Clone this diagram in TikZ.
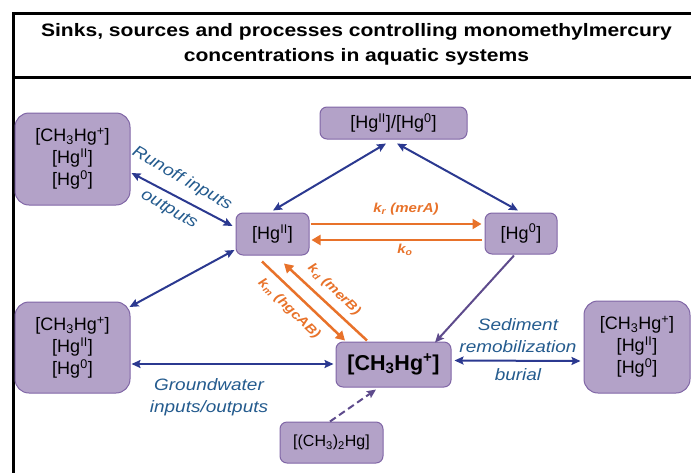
\documentclass[tikz,border=0pt]{standalone}
\usepackage{fontspec}
\setmainfont{Liberation Sans}
\newfontfamily\widefont{Liberation Sans}[FakeStretch=1.15]
\newfontfamily\titlefont{Liberation Sans}[FakeStretch=1.17]
\usetikzlibrary{arrows.meta,calc}
\definecolor{boxfill}{HTML}{B3A2C8}
\definecolor{boxline}{HTML}{8066A6}
\definecolor{navy}{HTML}{2B3990}
\definecolor{lbl}{HTML}{245B8E}
\definecolor{orng}{HTML}{E8722A}
\definecolor{purp}{HTML}{5E4B8C}
\newcommand{\HgTwo}{[Hg\textsuperscript{II}]}
\newcommand{\HgZero}{[Hg\textsuperscript{0}]}
\newcommand{\MeHg}{[CH\textsubscript{3}Hg\textsuperscript{+}]}
\tikzset{
  bigbox/.style={draw=boxline, fill=boxfill, line width=1pt, rounded corners=14pt, align=center,
    font=\fontsize{18}{22}\selectfont, inner sep=0pt},
  smallbox/.style={draw=boxline, fill=boxfill, line width=1pt, rounded corners=7pt, align=center,
    font=\fontsize{18}{22}\selectfont, inner sep=0pt},
  dbl/.style={{Stealth[length=9pt,width=8pt,inset=1.5pt]}-{Stealth[length=9pt,width=8pt,inset=1.5pt]}, draw=navy, line width=2pt},
  orarrow/.style={-{Triangle[length=9pt,width=10pt]}, draw=orng, line width=2.5pt},
  lbltext/.style={text=lbl, font=\widefont\itshape\fontsize{16.5}{22}\selectfont, inner sep=0pt},
  klbl/.style={text=orng, font=\widefont\bfseries\itshape\fontsize{13}{15}\selectfont, inner sep=0pt},
  titletext/.style={font=\titlefont\bfseries\fontsize{18}{25}\selectfont, inner sep=0pt}
}
\begin{document}
\begin{tikzpicture}[x=1pt,y=-1pt]
\useasboundingbox (0,0) rectangle (691,472);
\clip (0,0) rectangle (691,472);
% frame
\draw[line width=3pt] (13.5,480) -- (13.5,13.5) -- (700,13.5);
\draw[line width=2.5pt] (13.5,77.5) -- (700,77.5);
% title
\node[titletext, anchor=base] (t1) at (356.5,36) {Sinks, sources and processes controlling monomethylmercury};
\node[titletext, anchor=base] (t2) at (356.5,61) {concentrations in aquatic systems};
% boxes
\node[bigbox, minimum width=115pt, minimum height=92pt] (TL) at (72.5,159) {\MeHg\\\HgTwo\\\HgZero};
\node[bigbox, minimum width=115pt, minimum height=91pt] (ML) at (72.5,347.5) {\MeHg\\\HgTwo\\\HgZero};
\node[bigbox, minimum width=106pt, minimum height=92pt] (R) at (637,347) {\MeHg\\\HgTwo\\\HgZero};
\node[smallbox, minimum width=147pt, minimum height=32pt] (Top) at (393.5,123) {\HgTwo/\HgZero};
\node[smallbox, minimum width=73pt, minimum height=42pt] (H2) at (272.5,234) {\HgTwo};
\node[smallbox, minimum width=72pt, minimum height=41pt] (H0) at (521,233.5) {\HgZero};
\node[smallbox, minimum width=115pt, minimum height=45pt, font=\bfseries\fontsize{21.5}{24}\selectfont] (M) at (393.5,364.5) {\MeHg};
\node[smallbox, minimum width=103pt, minimum height=41pt, font=\fontsize{16}{20}\selectfont] (DM) at (331.5,442.5) {[(CH\textsubscript{3})\textsubscript{2}Hg]};
% connectors
\draw[dbl] ($(TL.east)+(1,14)$) -- ($(H2.west)+(-3,-8)$);
\draw[dbl] ($(Top.south)+(-7.5,4)$) -- ($(H2.north)+(0.5,-2)$);
\draw[dbl] ($(Top.south)+(3.5,4)$) -- ($(H0.north)+(-3,-2)$);
\draw[dbl] ($(ML.east)+(-1,-40.5)$) -- ($(H2.west)+(-1,16)$);
\draw[dbl] ($(ML.east)+(1,16.5)$) -- ($(M.west)+(-2,-0.5)$);
\draw[dbl] ($(M.east)+(3,-4)$) -- ($(R.west)+(-3,14)$);
\draw[orarrow] ($(H2.east)+(1,-10)$) -- ($(H0.west)+(-3,-9.5)$);
\draw[orarrow] ($(H0.west)+(-3,6.5)$) -- ($(H2.east)+(2,6)$);
\draw[orarrow] ($(H2.south)+(-10.5,6)$) -- ($(M.north)+(-48.5,-1)$);
\draw[orarrow] ($(M.north)+(-26.5,-1)$) -- ($(H2.south)+(11.5,8)$);
\draw[-{Stealth[length=9pt,width=8pt,inset=1.5pt]}, draw=purp, line width=2pt] ($(H0.south)+(-7,1)$) -- ($(M.north)+(41.5,1)$);
\draw[-{Stealth[length=9pt,width=8pt,inset=1.5pt]}, draw=purp, line width=2pt, dash pattern=on 7pt off 4pt] ($(DM.north)+(-1.5,0)$) -- ($(M.south)+(-17.5,2)$);
% labels
\node[lbltext, rotate=-30] (l1) at (182,179) {Runoff inputs};
\node[lbltext, rotate=-30] (l2) at (169,210) {outputs};
\node[lbltext, anchor=base] (l3) at (209,390) {Groundwater};
\node[lbltext, anchor=base] (l4) at (209,412) {inputs/outputs};
\node[lbltext, anchor=base] (l5) at (518,330) {Sediment};
\node[lbltext, anchor=base] (l6) at (518,352) {remobilization};
\node[lbltext, anchor=base] (l7) at (518,380) {burial};
\node[klbl] (k1) at (406,209) {k\textsubscript{r} (merA)};
\node[klbl] (k2) at (405,250) {k\textsubscript{o}};
\node[klbl, rotate=-44] (k3) at (289,309) {k\textsubscript{m} (hgcAB)};
\node[klbl, rotate=-44] (k4) at (334,290) {k\textsubscript{d} (merB)};
\end{tikzpicture}
\end{document}
